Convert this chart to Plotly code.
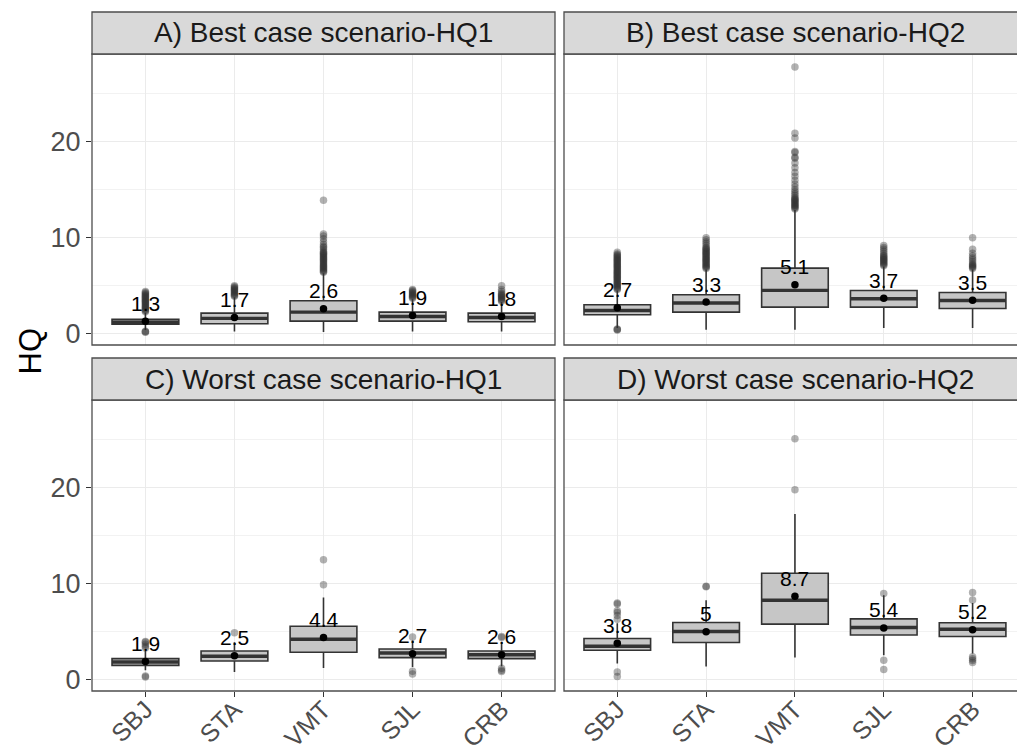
import plotly.graph_objects as go

W, H = 1017, 754

SITES = ["SBJ", "STA", "VMT", "SJL", "CRB"]
PANEL_TITLES = ["A) Best case scenario-HQ1", "B) Best case scenario-HQ2",
                "C) Worst case scenario-HQ1", "D) Worst case scenario-HQ2"]

# ---- Panel A: Best case HQ1 ----
A_Q1 = [1.0, 1.04, 1.32, 1.32, 1.25]
A_MED = [1.2, 1.6, 2.26, 1.8, 1.7]
A_Q3 = [1.5, 2.15, 3.44, 2.26, 2.15]
A_LO = [0.4, 0.24, 0.18, 0.24, 0.24]
A_HI = [2.2, 3.8, 6.3, 3.6, 3.3]
A_MEAN = [1.3, 1.7, 2.6, 1.9, 1.8]
A_OUT = [
    [0.15, 0.2, 0.25, 2.3, 2.4, 2.5, 2.6, 2.7, 2.8, 2.9, 3.0, 3.1, 3.2, 3.3, 3.4, 3.5,
     3.6, 3.7, 3.8, 3.9, 4.0, 4.1, 4.2, 4.3, 4.4],
    [3.9, 4.0, 4.1, 4.2, 4.3, 4.4, 4.5, 4.6, 4.7, 4.8, 4.9, 5.0],
    [6.4, 6.5, 6.6, 6.7, 6.8, 6.9, 7.0, 7.1, 7.2, 7.3, 7.4, 7.5, 7.6, 7.7, 7.8, 7.9,
     8.0, 8.1, 8.2, 8.3, 8.4, 8.5, 8.6, 8.8, 9.0, 9.1, 9.3, 9.6, 9.9, 10.2, 10.4, 13.9],
    [3.7, 3.8, 3.9, 4.0, 4.1, 4.2, 4.3, 4.4, 4.5, 4.6],
    [3.4, 3.5, 3.6, 3.7, 3.8, 3.9, 4.0, 4.1, 4.2, 4.4, 4.6, 5.0],
]

# ---- Panel B: Best case HQ2 ----
B_Q1 = [1.98, 2.26, 2.78, 2.78, 2.64]
B_MED = [2.43, 3.2, 4.52, 3.65, 3.47]
B_Q3 = [3.02, 4.06, 6.84, 4.51, 4.3]
B_LO = [0.6, 0.42, 0.42, 0.59, 0.59]
B_HI = [4.5, 6.7, 12.9, 7.0, 6.7]
B_MEAN = [2.7, 3.3, 5.1, 3.7, 3.5]
B_OUT = [
    [0.4, 0.45, 0.5, 4.6, 4.7, 4.8, 4.9, 5.0, 5.1, 5.2, 5.3, 5.4, 5.5, 5.6, 5.7, 5.8,
     5.9, 6.0, 6.1, 6.2, 6.3, 6.4, 6.5, 6.6, 6.7, 6.8, 6.9, 7.0, 7.1, 7.2, 7.3, 7.4,
     7.5, 7.6, 7.7, 7.8, 7.9, 8.0, 8.1, 8.2, 8.3, 8.5],
    [6.8, 6.9, 7.0, 7.1, 7.2, 7.3, 7.4, 7.5, 7.6, 7.7, 7.8, 7.9, 8.0, 8.1, 8.2, 8.3,
     8.4, 8.5, 8.6, 8.7, 8.8, 8.9, 9.0, 9.2, 9.4, 9.6, 9.8, 10.0],
    [13.0, 13.1, 13.2, 13.3, 13.4, 13.5, 13.6, 13.7, 13.8, 13.9, 14.0, 14.1, 14.2,
     14.4, 14.6, 14.8, 15.0, 15.3, 15.6, 16.0, 16.4, 16.8, 17.3, 17.8, 18.3, 18.4,
     18.9, 19.0, 20.4, 20.9, 27.8],
    [7.1, 7.2, 7.3, 7.4, 7.5, 7.6, 7.7, 7.8, 7.9, 8.0, 8.1, 8.2, 8.4, 8.6, 8.8, 9.0, 9.2],
    [6.8, 6.9, 7.0, 7.1, 7.2, 7.3, 7.5, 7.7, 7.9, 8.1, 8.4, 8.8, 10.0],
]

# ---- Panel C: Worst case HQ1 ----
C_Q1 = [1.5, 1.96, 2.86, 2.31, 2.2]
C_MED = [1.85, 2.45, 4.22, 2.79, 2.6]
C_Q3 = [2.2, 3.0, 5.57, 3.2, 3.0]
C_LO = [1.0, 0.81, 1.23, 1.33, 1.4]
C_HI = [3.0, 3.9, 8.56, 4.1, 3.9]
C_MEAN = [1.9, 2.5, 4.4, 2.7, 2.6]
C_OUT = [
    [0.3, 0.4, 3.3, 3.5, 3.7, 3.9, 4.0],
    [4.9],
    [9.9, 12.5],
    [0.6, 0.9, 4.45],
    [0.85, 1.0, 1.2, 4.4, 4.5],
]

# ---- Panel D: Worst case HQ2 ----
D_Q1 = [3.07, 3.89, 5.8, 4.66, 4.51]
D_MED = [3.49, 5.03, 8.28, 5.45, 5.26]
D_Q3 = [4.3, 5.97, 11.1, 6.35, 5.94]
D_LO = [1.69, 1.39, 2.31, 2.55, 2.73]
D_HI = [5.9, 8.28, 17.26, 8.8, 8.0]
D_MEAN = [3.8, 5.0, 8.7, 5.4, 5.2]
D_OUT = [
    [0.35, 0.8, 6.3, 6.7, 7.0, 7.2, 7.9, 8.0],
    [9.7, 9.75],
    [19.8, 25.1],
    [1.06, 2.03, 9.0],
    [1.8, 2.0, 2.2, 2.4, 8.3, 9.1],
]

PANELS = [
    (A_Q1, A_MED, A_Q3, A_LO, A_HI, A_MEAN, A_OUT),
    (B_Q1, B_MED, B_Q3, B_LO, B_HI, B_MEAN, B_OUT),
    (C_Q1, C_MED, C_Q3, C_LO, C_HI, C_MEAN, C_OUT),
    (D_Q1, D_MED, D_Q3, D_LO, D_HI, D_MEAN, D_OUT),
]

FONT = "Liberation Sans, Arial, sans-serif"

# pixel layout of each panel's plotting area
PX_X = [(92, 555), (564, 1017), (92, 555), (564, 1017)]
PX_Y = [(54, 345), (54, 345), (400, 691), (400, 691)]
STRIP_H = 42
X_RANGES = [[-0.6, 4.6], [-0.6, 4.5], [-0.6, 4.6], [-0.6, 4.5]]
Y_RANGE = [-1.17, 29.15]

fig = go.Figure()
layout = dict(
    width=W, height=H, margin=dict(l=0, r=0, t=0, b=0, autoexpand=False),
    paper_bgcolor="white", plot_bgcolor="white", showlegend=False,
    font=dict(family=FONT, color="#4d4d4d"),
)
shapes, annotations = [], []

for i, (q1, med, q3, lo, hi, mean, outs) in enumerate(PANELS):
    n = i + 1
    xa = "x" if n == 1 else f"x{n}"
    ya = "y" if n == 1 else f"y{n}"
    fig.add_trace(go.Box(
        x=SITES, q1=q1, median=med, q3=q3, lowerfence=lo, upperfence=hi,
        width=0.75, whiskerwidth=0, boxpoints=False,
        fillcolor="#c6c6c6", line=dict(color="#333333", width=1.6),
        xaxis=xa, yaxis=ya, hoverinfo="skip",
    ))
    # thick median bar (ggplot's fattened median line)
    fig.add_trace(go.Box(
        x=SITES, q1=med, median=med, q3=med, lowerfence=med, upperfence=med,
        width=0.75, whiskerwidth=0, boxpoints=False,
        fillcolor="#333333", line=dict(color="#333333", width=3.4),
        xaxis=xa, yaxis=ya, hoverinfo="skip",
    ))
    ox, oy = [], []
    for s, vals in zip(SITES, outs):
        ox += [s] * len(vals)
        oy += vals
    fig.add_trace(go.Scatter(
        x=ox, y=oy, mode="markers",
        marker=dict(color="#333333", opacity=0.38, size=7.5, line=dict(width=0)),
        xaxis=xa, yaxis=ya, hoverinfo="skip",
    ))
    fig.add_trace(go.Scatter(
        x=SITES, y=mean, mode="markers",
        marker=dict(color="black", size=7.5, line=dict(width=0)),
        xaxis=xa, yaxis=ya, hoverinfo="skip",
    ))
    for s, m in zip(SITES, mean):
        annotations.append(dict(
            x=s, y=m, xref=xa, yref=ya, text=f"{m:g}", showarrow=False,
            yshift=18, font=dict(size=21, color="black", family=FONT),
        ))

    x0, x1 = PX_X[i]
    yt, yb = PX_Y[i]
    dom_x = [x0 / W, min(x1 / W, 1.0)]
    dom_y = [1 - yb / H, 1 - yt / H]
    bottom = i >= 2
    left = i % 2 == 0
    layout["xaxis" if n == 1 else f"xaxis{n}"] = dict(
        domain=dom_x, anchor=ya, type="category", range=X_RANGES[i],
        automargin=False,
        showgrid=True, gridcolor="#ebebeb", gridwidth=1.2,
        showline=False, zeroline=False,
        ticks="outside" if bottom else "", ticklen=5, tickcolor="#333333",
        showticklabels=bottom, tickangle=-45, ticklabelstandoff=-12,
        tickfont=dict(size=25, color="#4d4d4d", family=FONT),
    )
    layout["yaxis" if n == 1 else f"yaxis{n}"] = dict(
        domain=dom_y, anchor=xa, range=Y_RANGE, automargin=False,
        tickvals=[0, 10, 20], showgrid=True, gridcolor="#ebebeb", gridwidth=1.2,
        minor=dict(tickvals=[5, 15, 25], showgrid=True, gridcolor="#f2f2f2",
                   gridwidth=1, ticks=""),
        showline=False, zeroline=False,
        ticks="outside" if left else "", ticklen=5, tickcolor="#333333",
        showticklabels=left,
        tickfont=dict(size=27, color="#4d4d4d", family=FONT),
    )
    xr = (x1 + (12 if x1 >= W else 0)) / W
    # panel border
    shapes.append(dict(type="rect", xref="paper", yref="paper",
                       x0=x0 / W, x1=xr, y0=1 - yb / H, y1=1 - yt / H,
                       line=dict(color="#4d4d4d", width=1.3),
                       fillcolor="rgba(0,0,0,0)", layer="above"))
    # strip
    shapes.append(dict(type="rect", xref="paper", yref="paper",
                       x0=x0 / W, x1=xr, y0=1 - yt / H, y1=1 - (yt - STRIP_H) / H,
                       line=dict(color="#4d4d4d", width=1.3), fillcolor="#d9d9d9",
                       layer="above"))
    annotations.append(dict(
        x=(x0 + 231.5) / W, y=1 - (yt - STRIP_H / 2) / H, xref="paper", yref="paper",
        text=PANEL_TITLES[i], showarrow=False, xanchor="center", yanchor="middle",
        font=dict(size=28, color="#1a1a1a", family=FONT),
    ))

annotations.append(dict(
    x=30 / W, y=1 - 351.5 / H, xref="paper", yref="paper", text="HQ",
    showarrow=False, textangle=-90, xanchor="center", yanchor="middle",
    font=dict(size=31, color="black", family=FONT),
))

layout["shapes"] = shapes
layout["annotations"] = annotations
fig.update_layout(**layout)
fig.write_html("out.html")
